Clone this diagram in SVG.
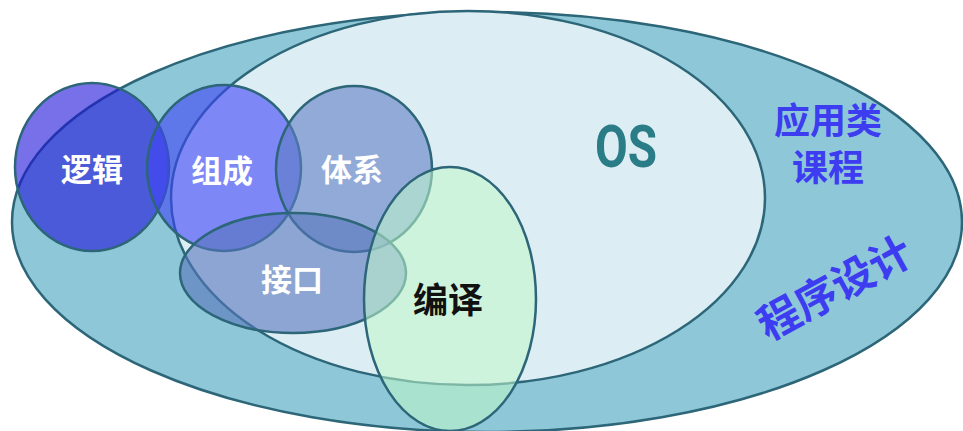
<svg xmlns="http://www.w3.org/2000/svg" width="963" height="431" viewBox="0 0 963 431">
  <style>
    .shape { stroke: #2c6678; stroke-width: 2.5; }
    .lbl { font-family: "Noto Sans CJK SC", "Noto Sans", sans-serif; font-weight: bold; text-anchor: middle; dominant-baseline: central; }
    .white { fill: #ffffff; font-size: 31px; }
    .blue { fill: #3d3cf0; }
  </style>
  <rect width="963" height="431" fill="#ffffff"/>
  <g id="outer">
    <ellipse class="shape" cx="487" cy="222" rx="475" ry="210" fill="#8ec8d8"/>
    <text class="lbl blue" x="828" y="118" font-size="36">应用类</text>
    <text class="lbl blue" x="828" y="165" font-size="36">课程</text>
    <text class="lbl blue" x="833" y="285" font-size="42" transform="rotate(-28.6 833 285)">程序设计</text>
  </g>
  <g id="os">
    <ellipse class="shape" cx="468" cy="198" rx="297" ry="187" fill="#dcedf3"/>
    <text x="626" y="167" font-family="Roboto, 'Liberation Sans', sans-serif" font-weight="bold" font-size="60" fill="#2a7d86" text-anchor="middle" textLength="62" lengthAdjust="spacingAndGlyphs">OS</text>
  </g>
  <g id="luoji">
    <ellipse class="shape" cx="92" cy="167" rx="77" ry="84" fill="rgb(30,17,217)" fill-opacity="0.6"/>
    <text class="lbl white" x="92" y="167">逻辑</text>
  </g>
  <g id="zucheng">
    <ellipse class="shape" cx="224" cy="168" rx="77" ry="83" fill="rgb(62,67,247)" fill-opacity="0.6"/>
    <text class="lbl white" x="222" y="168">组成</text>
  </g>
  <g id="tixi">
    <ellipse class="shape" cx="354" cy="169" rx="78" ry="83" fill="rgb(95,125,197)" fill-opacity="0.6"/>
    <text class="lbl white" x="352" y="167">体系</text>
  </g>
  <g id="jiekou">
    <ellipse class="shape" cx="293" cy="273" rx="113" ry="60" fill="rgb(87,117,188)" fill-opacity="0.6"/>
    <text class="lbl white" x="292" y="277">接口</text>
  </g>
  <g id="bianyi">
    <ellipse class="shape" cx="450" cy="299" rx="86" ry="132" fill="rgb(193,248,202)" fill-opacity="0.55"/>
    <text class="lbl" x="448" y="297" font-size="35" fill="#111111">编译</text>
  </g>
  <g id="connectors"/>
</svg>
